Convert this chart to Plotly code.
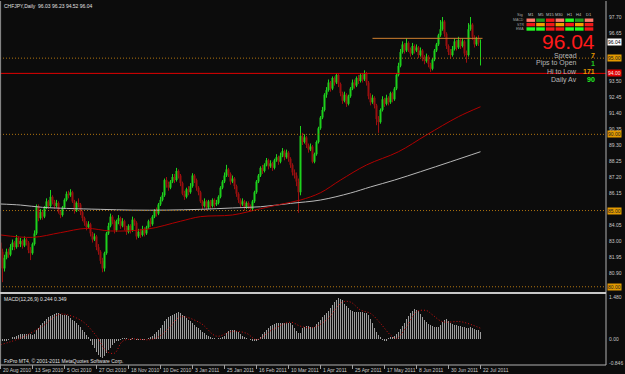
import plotly.graph_objects as go

# ---------------- data ----------------
date_labels = ["20 Aug 2010", "13 Sep 2010", "5 Oct 2010", "27 Oct 2010", "18 Nov 2010",
               "10 Dec 2010", "3 Jan 2011", "25 Jan 2011", "16 Feb 2011", "10 Mar 2011",
               "1 Apr 2011", "25 Apr 2011", "17 May 2011", "8 Jun 2011", "30 Jun 2011",
               "22 Jul 2011"]
date_bars = [0, 16, 32, 48, 64, 80, 96, 112, 128, 144, 160, 176, 192, 208, 224, 240]

first_open = 82.9
closes = [
    82.3, 81.2, 81.9, 82.3, 82.1, 82.6, 82.9, 82.6, 83.2, 82.8,
    83.0, 82.7, 83.1, 82.9, 82.4, 82.2, 82.8, 83.5, 85.3, 84.5,
    84.9, 84.6, 85.2, 85.6, 85.3, 85.9, 85.6, 85.3, 85.5, 84.9,
    84.7, 85.2, 85.7, 86.1, 86.0, 86.2, 85.6, 85.0, 85.5, 85.4,
    84.9, 84.5, 84.2, 83.9, 84.1, 83.5, 83.1, 83.3, 82.6, 82.3,
    81.7, 81.2, 82.2, 83.5, 84.0, 84.6, 84.3, 83.7, 84.3, 84.5,
    84.0, 84.3, 83.9, 83.6, 84.0, 83.7, 84.4, 84.2, 83.3, 83.6,
    83.4, 83.8, 83.5, 83.9, 84.3, 84.1, 84.6, 85.0, 84.8, 85.4,
    85.7, 86.0, 87.0, 86.7, 86.5, 86.9, 87.2, 87.0, 87.6, 87.3,
    86.8, 86.1, 85.9, 86.4, 86.2, 86.6, 87.3, 87.0, 86.5, 86.2,
    85.6, 85.3, 85.6, 85.2, 85.6, 85.3, 85.7, 85.4, 85.5, 85.9,
    86.5, 86.9, 87.3, 87.7, 87.4, 86.9, 87.1, 86.6, 86.1, 85.7,
    85.4, 85.6, 85.2, 85.5, 85.3, 85.1, 85.6, 86.2, 86.9, 87.3,
    87.8, 87.6, 88.0, 88.3, 87.9, 88.1, 87.8, 88.3, 88.5, 88.2,
    88.6, 88.9, 88.5, 88.8, 88.4, 88.0, 87.5, 87.3, 86.9, 86.2,
    89.9, 89.5, 89.8, 89.3, 89.0, 89.2, 88.2, 88.7, 89.5, 90.4,
    91.1, 91.6, 92.6, 92.9, 93.4, 93.0, 93.7, 93.4, 93.9, 93.3,
    92.7, 92.2, 92.6, 92.0, 92.5, 93.0, 93.4, 93.2, 93.7, 93.5,
    93.9, 93.6, 94.0, 93.4, 92.5, 92.1, 92.4, 91.9, 91.0, 90.8,
    91.6, 92.3, 92.0, 92.4, 92.1, 92.7, 92.3, 93.0, 93.9, 94.5,
    95.4, 95.9, 95.5, 96.0, 95.6, 95.3, 95.8, 95.5, 95.7, 95.2,
    95.5, 95.0, 94.8, 95.1, 94.6, 94.3, 94.9, 95.5, 95.9, 96.5,
    96.9, 97.4, 96.6, 95.8, 95.4, 95.2, 95.6, 96.1, 95.7, 96.2,
    95.8, 96.1, 95.3, 95.2, 96.9, 97.2, 96.4, 95.9, 96.3, 96.03,
    96.04]
highs = [
    83.1, 82.5, 82.1, 82.5, 82.5, 82.8, 83.1, 83.0, 83.4, 83.3,
    83.2, 83.1, 83.3, 83.2, 83.0, 82.6, 82.9, 83.7, 85.4, 85.4,
    85.1, 85.0, 85.3, 85.8, 85.7, 86.35, 86.0, 85.7, 85.7, 85.6,
    85.0, 85.3, 85.8, 86.25, 86.3, 86.4, 86.3, 85.7, 85.6, 85.8,
    85.5, 85.0, 84.6, 84.3, 84.3, 84.2, 83.6, 83.5, 83.4, 82.8,
    82.4, 81.9, 82.3, 83.6, 84.2, 84.8, 84.7, 84.4, 84.4, 84.7,
    84.6, 84.5, 84.4, 84.0, 84.1, 84.1, 84.6, 84.5, 84.3, 83.8,
    83.8, 84.0, 83.9, 84.0, 84.4, 84.5, 84.7, 85.1, 85.2, 85.5,
    85.9, 86.2, 87.1, 87.2, 86.9, 87.0, 87.4, 87.4, 87.8, 87.7,
    87.4, 86.9, 86.3, 86.5, 86.6, 86.8, 87.45, 87.4, 87.1, 86.6,
    86.3, 85.7, 85.8, 85.7, 85.7, 85.7, 85.8, 85.8, 85.7, 86.0,
    86.6, 87.0, 87.5, 88.0, 87.8, 87.5, 87.3, 87.2, 86.7, 86.2,
    85.8, 85.8, 85.7, 85.6, 85.6, 85.4, 85.7, 86.3, 87.0, 87.4,
    87.9, 88.0, 88.1, 88.45, 88.4, 88.3, 88.2, 88.4, 88.7, 88.6,
    88.8, 89.1, 89.0, 89.0, 88.9, 88.5, 88.1, 87.7, 87.5, 87.1,
    90.55, 90.1, 90.0, 89.9, 89.4, 89.4, 89.3, 88.8, 89.6, 90.5,
    91.2, 91.8, 92.7, 93.1, 93.6, 93.5, 93.8, 93.8, 94.0, 94.0,
    93.4, 92.8, 92.8, 92.7, 92.6, 93.1, 93.6, 93.6, 93.8, 93.9,
    94.0, 94.0, 94.2, 94.1, 93.5, 92.7, 92.6, 92.5, 92.0, 91.2,
    91.7, 92.5, 92.4, 92.6, 92.5, 92.8, 92.8, 93.1, 94.0, 94.7,
    95.6, 96.1, 96.0, 96.3, 96.1, 95.7, 96.0, 95.9, 95.9, 95.8,
    95.7, 95.6, 95.2, 95.3, 95.2, 94.7, 95.0, 95.6, 96.0, 96.6,
    97.5, 97.7, 97.5, 96.7, 95.9, 95.6, 95.8, 96.3, 96.2, 96.4,
    96.3, 96.3, 96.2, 95.5, 97.3, 97.7, 97.3, 96.5, 96.4, 96.5,
    96.23]
lows = [
    82.1, 80.3, 81.0, 81.8, 81.9, 82.0, 82.4, 82.4, 82.5, 82.6,
    82.6, 82.5, 82.6, 82.7, 82.2, 81.75, 82.1, 82.7, 83.4, 84.3,
    84.4, 84.4, 84.5, 85.1, 85.1, 85.2, 85.4, 85.1, 85.2, 84.8,
    84.5, 84.6, 85.1, 85.6, 85.8, 85.9, 85.5, 84.8, 84.9, 85.2,
    84.7, 84.3, 84.0, 83.7, 83.8, 83.3, 82.9, 83.0, 82.4, 82.1,
    81.5, 80.95, 81.0, 82.1, 83.4, 83.9, 84.1, 83.5, 83.6, 84.1,
    83.8, 83.9, 83.7, 83.4, 83.5, 83.5, 83.6, 84.0, 83.1, 83.2,
    83.2, 83.3, 83.3, 83.4, 83.8, 83.9, 84.0, 84.5, 84.6, 84.7,
    85.3, 85.6, 85.9, 86.5, 86.3, 86.4, 86.8, 86.8, 86.9, 87.1,
    86.6, 86.0, 85.7, 85.8, 86.0, 86.1, 86.5, 86.8, 86.3, 86.0,
    85.5, 85.1, 85.2, 85.0, 85.1, 85.1, 85.2, 85.2, 85.3, 85.4,
    85.8, 86.4, 86.8, 87.2, 87.2, 86.7, 86.8, 86.4, 85.9, 85.5,
    85.2, 85.3, 85.0, 85.1, 85.1, 84.95, 85.0, 85.5, 86.1, 86.8,
    87.2, 87.4, 87.5, 87.9, 87.7, 87.8, 87.6, 87.7, 88.2, 88.0,
    88.1, 88.5, 88.3, 88.4, 88.2, 87.8, 87.3, 87.1, 86.6, 84.85,
    86.0, 89.3, 89.4, 89.1, 88.8, 88.9, 88.1, 88.1, 88.6, 89.4,
    90.3, 91.0, 91.5, 92.4, 92.8, 92.8, 92.9, 93.2, 93.3, 93.1,
    92.5, 92.0, 92.1, 91.8, 91.9, 92.4, 92.9, 93.0, 93.1, 93.3,
    93.4, 93.4, 93.5, 93.2, 92.3, 91.9, 92.0, 91.7, 90.6, 90.1,
    90.7, 91.5, 91.8, 91.9, 91.9, 92.0, 92.1, 92.2, 92.9, 93.8,
    94.4, 95.3, 95.3, 95.4, 95.4, 95.1, 95.2, 95.3, 95.4, 95.0,
    95.1, 94.8, 94.6, 94.7, 94.4, 94.1, 94.2, 94.8, 95.4, 95.8,
    96.4, 96.8, 96.4, 95.6, 95.2, 95.0, 95.1, 95.5, 95.5, 95.6,
    95.6, 95.7, 95.1, 94.7, 95.1, 96.8, 96.2, 95.7, 95.8, 95.8,
    94.52]

# moving averages (read at sample bars)
ma_red_bars = [0, 16, 30, 43, 55, 73, 90, 100, 116, 130, 140, 150, 160, 170, 183, 199, 213, 229, 240]
ma_red_vals = [83.40, 83.24, 83.55, 83.83, 83.66, 83.77, 84.30, 84.60, 84.71, 85.12, 85.41,
               85.69, 86.17, 87.00, 87.99, 88.86, 89.96, 91.16, 91.81]
ma_grey_bars = [0, 10, 21, 33, 50, 66, 83, 100, 116, 130, 145, 160, 175, 185, 197, 210, 225, 240]
ma_grey_vals = [85.43, 85.36, 85.21, 85.14, 85.08, 85.03, 85.03, 85.08, 85.17, 85.25, 85.47,
                85.69, 86.15, 86.55, 87.00, 87.55, 88.20, 88.86]

# MACD histogram per bar
macd = [
    -0.06, -0.07, -0.06, -0.05, -0.03, 0.00, 0.04, 0.08, 0.12, 0.15,
    0.17, 0.18, 0.19, 0.18, 0.17, 0.16, 0.15, 0.17, 0.30, 0.40,
    0.48, 0.55, 0.62, 0.70, 0.76, 0.82, 0.86, 0.89, 0.91, 0.90,
    0.88, 0.86, 0.85, 0.84, 0.80, 0.74, 0.68, 0.62, 0.56, 0.50,
    0.42, 0.33, 0.24, 0.14, 0.05, -0.08, -0.20, -0.32, -0.44, -0.55,
    -0.63, -0.67, -0.60, -0.50, -0.40, -0.30, -0.22, -0.15, -0.08, -0.04,
    -0.01, 0.01, 0.02, 0.01, 0.00, -0.01, 0.01, 0.00, -0.02, -0.02,
    -0.01, -0.02, -0.01, 0.00, 0.02, 0.05, 0.10, 0.17, 0.24, 0.32,
    0.40, 0.50, 0.62, 0.70, 0.76, 0.82, 0.86, 0.89, 0.92, 0.94,
    0.90, 0.86, 0.80, 0.74, 0.68, 0.62, 0.56, 0.50, 0.44, 0.38,
    0.32, 0.26, 0.20, 0.15, 0.10, 0.06, 0.03, 0.01, 0.00, 0.01,
    0.02, 0.05, 0.12, 0.20, 0.27, 0.31, 0.33, 0.32, 0.28, 0.24,
    0.18, 0.12, 0.07, 0.03, 0.00, -0.03, -0.05, -0.06, -0.04, -0.01,
    0.08, 0.16, 0.24, 0.32, 0.40, 0.46, 0.50, 0.53, 0.55, 0.56,
    0.57, 0.58, 0.58, 0.57, 0.56, 0.55, 0.50, 0.40, 0.28, 0.20,
    0.22, 0.40, 0.44, 0.45, 0.45, 0.44, 0.43, 0.44, 0.52, 0.60,
    0.68, 0.76, 0.84, 0.92, 1.00, 1.10, 1.20, 1.30, 1.38, 1.43,
    1.42, 1.36, 1.25, 1.15, 1.08, 1.02, 0.98, 0.95, 0.94, 0.94,
    0.95, 0.94, 0.93, 0.92, 0.86, 0.70, 0.55, 0.40, 0.26, 0.14,
    0.04, -0.03, -0.06, -0.04, 0.02, 0.05, 0.08, 0.12, 0.17, 0.24,
    0.34, 0.46, 0.58, 0.70, 0.82, 0.92, 1.00, 1.04, 1.03, 0.98,
    0.88, 0.78, 0.68, 0.60, 0.54, 0.50, 0.46, 0.44, 0.43, 0.44,
    0.50, 0.60, 0.68, 0.70, 0.64, 0.56, 0.52, 0.50, 0.48, 0.47,
    0.46, 0.44, 0.42, 0.40, 0.40, 0.41, 0.40, 0.36, 0.33, 0.30,
    0.26]
signal_bars = [0, 10, 21, 29, 33, 41, 48, 53, 57, 61, 66, 75, 80, 85, 90, 100, 108, 116,
               123, 128, 136, 145, 150, 156, 163, 171, 175, 180, 185, 190, 195, 198, 203,
               208, 213, 216, 221, 230, 236, 240]
signal_vals = [-0.20, 0.03, 0.45, 0.86, 0.86, 0.62, 0.10, -0.43, -0.50, -0.08, 0.00, -0.02,
               0.12, 0.45, 0.78, 0.56, 0.10, 0.27, 0.20, -0.02, 0.33, 0.59, 0.45, 0.40,
               0.67, 1.30, 1.30, 1.02, 0.90, 0.55, 0.14, 0.02, 0.43, 0.96, 1.00, 0.85,
               0.61, 0.61, 0.49, 0.38]

price_ticks = [97.70, 96.65, 93.50, 92.45, 91.40, 90.35, 89.30, 88.25, 87.20, 86.15,
               84.05, 83.00, 81.95, 80.90]
round_levels = [95.00, 90.00, 85.00, 80.00]
red_level = 94.00
top_level = 96.30
top_level_bars = [186, 240]
last_price = 96.04
macd_ticks = [1.480, 0.00, -0.846]
macd_tick_text = ["1.480", "0.00", "-0.846"]

info_labels = ["Spread", "Pips to Open", "Hi to Low", "Daily Av"]
info_values = ["7", "1", "171", "90"]
info_colors = ["#e89a00", "#22cc22", "#e89a00", "#22ee22"]

tf_cols = ["M1", "M5", "M15", "M30", "H1", "H4", "D1"]
tf_rows = ["MACD", "STR", "EMA"]
SAL, RED, DG, LIME, ORG = "#ff7a6a", "#f01818", "#1f9a1f", "#22ff22", "#f0a000"
tf_colors = [
    [SAL, DG, RED, SAL, LIME, DG, SAL],
    [RED, ORG, RED, ORG, RED, ORG, RED],
    [LIME, LIME, RED, RED, LIME, LIME, RED],
]

# ---------------- figure ----------------
bars = list(range(len(closes)))
opens = [first_open] + closes[:-1]

BG = "#0c0c0c"
FONT = "Liberation Sans"
W, TOP, BOT = 606.0, 1.0, 365.0
H = BOT - TOP


def pxx(x):
    return x / W


def pyy(y):
    return (BOT - y) / H


fig = go.Figure()

fig.add_trace(go.Candlestick(
    x=bars, open=opens, high=highs, low=lows, close=closes,
    increasing=dict(line=dict(color="#1ed21e", width=1), fillcolor="#1ed21e"),
    decreasing=dict(line=dict(color="#9a1010", width=1), fillcolor="#9a1010"),
    whiskerwidth=0, xaxis="x", yaxis="y", hoverinfo="skip", showlegend=False))

fig.add_trace(go.Scatter(x=ma_grey_bars, y=ma_grey_vals, mode="lines",
                         line=dict(color="#b8b8b8", width=1, shape="spline"),
                         xaxis="x", yaxis="y", hoverinfo="skip", showlegend=False))
fig.add_trace(go.Scatter(x=ma_red_bars, y=ma_red_vals, mode="lines",
                         line=dict(color="#b00000", width=1, shape="spline"),
                         xaxis="x", yaxis="y", hoverinfo="skip", showlegend=False))

fig.add_trace(go.Bar(x=bars, y=macd, width=0.5, marker=dict(color="#9c9c9c", line=dict(width=0)),
                     xaxis="x2", yaxis="y2", hoverinfo="skip", showlegend=False))
fig.add_trace(go.Scatter(x=signal_bars, y=signal_vals, mode="lines",
                         line=dict(color="#d01010", width=1, dash="1px,2px", shape="spline"),
                         xaxis="x2", yaxis="y2", hoverinfo="skip", showlegend=False))

shapes = []
for lv in round_levels:
    shapes.append(dict(type="line", xref="paper", x0=0, x1=1, yref="y", y0=lv, y1=lv,
                       line=dict(color="#b07410", width=1, dash="1px,2px")))
shapes.append(dict(type="line", xref="paper", x0=0, x1=1, yref="y", y0=red_level, y1=red_level,
                   line=dict(color="#e00000", width=1)))
shapes.append(dict(type="line", xref="x", x0=top_level_bars[0], x1=top_level_bars[1] + 1,
                   yref="y", y0=top_level, y1=top_level,
                   line=dict(color="#d08030", width=1)))
# frame lines
shapes.append(dict(type="line", xref="paper", x0=1, x1=1, yref="paper", y0=0, y1=1,
                   line=dict(color="#b0b0b0", width=1)))
shapes.append(dict(type="line", xref="paper", x0=0.001, x1=0.001, yref="paper", y0=0, y1=1,
                   line=dict(color="#909090", width=1)))
shapes.append(dict(type="line", xref="paper", x0=0, x1=1, yref="paper", y0=0, y1=0,
                   line=dict(color="#b0b0b0", width=1)))
shapes.append(dict(type="line", xref="paper", x0=0, x1=1, yref="paper", y0=pyy(293), y1=pyy(293),
                   line=dict(color="#c8c8c8", width=2)))
for b in date_bars:
    shapes.append(dict(type="line", xref="x", x0=b, x1=b, yref="paper", y0=pyy(365), y1=pyy(369),
                       line=dict(color="#a0a0a0", width=1)))

# signal table cells
for r, row in enumerate(tf_colors):
    for c, col in enumerate(row):
        x0 = 526.5 + 9.7 * c
        y0 = 18.5 + 4.4 * r
        shapes.append(dict(type="rect", xref="paper", yref="paper",
                           x0=pxx(x0), x1=pxx(x0 + 8.6), y0=pyy(y0 + 3.4), y1=pyy(y0),
                           fillcolor=col, line=dict(width=0)))


def box(val, bg, fg, text):
    return dict(xref="paper", x=1.0, xanchor="left", xshift=1, yref="y", y=val, yanchor="middle",
                text=text, showarrow=False, bgcolor=bg, borderpad=0,
                font=dict(family=FONT, size=5, color=fg))


ann = []
for t in price_ticks:
    ann.append(dict(xref="paper", x=1.0, xanchor="left", xshift=2, yref="y", y=t, yanchor="middle",
                    text=f"{t:.2f}", showarrow=False, borderpad=0,
                    font=dict(family=FONT, size=5, color="#c8c8c8")))
for lv in round_levels:
    ann.append(box(lv, "#e39a00", "#202020", f"{lv:.2f}"))
ann.append(box(red_level, "#e00000", "#f0f0f0", f"{red_level:.2f}"))
ann.append(box(last_price, "#ffffff", "#000000", f"{last_price:.2f}"))

for v, t in zip(macd_ticks, macd_tick_text):
    ann.append(dict(xref="paper", x=1.0, xanchor="left", xshift=2, yref="y2", y=v, yanchor="middle",
                    text=t, showarrow=False, borderpad=0,
                    font=dict(family=FONT, size=5, color="#c8c8c8")))

for b, lab in zip(date_bars, date_labels):
    ann.append(dict(xref="x", x=b, xanchor="left", xshift=1, yref="paper", y=pyy(369.5),
                    yanchor="middle", text=lab, showarrow=False, borderpad=0,
                    font=dict(family=FONT, size=5, color="#c8c8c8")))

ann.append(dict(xref="paper", x=pxx(3), xanchor="left", yref="paper", y=pyy(6), yanchor="middle",
                text="CHFJPY,Daily  96.03 96.23 94.52 96.04", showarrow=False, borderpad=0,
                font=dict(family=FONT, size=5, color="#e0e0e0")))
ann.append(dict(xref="paper", x=pxx(3), xanchor="left", yref="paper", y=pyy(299), yanchor="middle",
                text="MACD(12,26,9) 0.244 0.349", showarrow=False, borderpad=0,
                font=dict(family=FONT, size=5, color="#e0e0e0")))
ann.append(dict(xref="paper", x=pxx(3), xanchor="left", yref="paper", y=pyy(361), yanchor="middle",
                text="FxPro MT4, © 2001-2011 MetaQuotes Software Corp.", showarrow=False, borderpad=0,
                font=dict(family=FONT, size=5, color="#e0e0e0")))

ann.append(dict(xref="paper", x=pxx(596), xanchor="right", yref="paper", y=pyy(41), yanchor="middle",
                text=f"{last_price:.2f}", showarrow=False, borderpad=0,
                font=dict(family=FONT, size=21, color="#ff1a1a")))
info_y = [55.5, 63.5, 71.5, 79.5]
for lab, val, col, yy in zip(info_labels, info_values, info_colors, info_y):
    ann.append(dict(xref="paper", x=pxx(578), xanchor="right", yref="paper", y=pyy(yy),
                    yanchor="middle", text=lab, showarrow=False, borderpad=0,
                    font=dict(family=FONT, size=7, color="#b8b8b8")))
    ann.append(dict(xref="paper", x=pxx(596), xanchor="right", yref="paper", y=pyy(yy),
                    yanchor="middle", text=f"<b>{val}</b>", showarrow=False, borderpad=0,
                    font=dict(family=FONT, size=7, color=col)))

ann.append(dict(xref="paper", x=pxx(524), xanchor="right", yref="paper", y=pyy(15), yanchor="middle",
                text="Sig", showarrow=False, borderpad=0,
                font=dict(family=FONT, size=4, color="#a0a0a0")))
for c, name in enumerate(tf_cols):
    ann.append(dict(xref="paper", x=pxx(526.5 + 9.7 * c + 4.3), xanchor="center", yref="paper",
                    y=pyy(15), yanchor="middle", text=name, showarrow=False, borderpad=0,
                    font=dict(family=FONT, size=4, color="#c0c0c0")))
for r, name in enumerate(tf_rows):
    ann.append(dict(xref="paper", x=pxx(525), xanchor="right", yref="paper",
                    y=pyy(18.5 + 4.4 * r + 1.7), yanchor="middle", text=name, showarrow=False,
                    borderpad=0, font=dict(family=FONT, size=3.5, color="#a0a0a0")))

main_lo = 97.70 - (292 - 17) / 15.24
main_hi = 97.70 - (1 - 17) / 15.24
macd_lo = -(365 - 339) / 28.4
macd_hi = (339 - 294) / 28.4

fig.update_layout(
    width=625, height=374,
    margin=dict(l=0, r=19, t=1, b=9),
    paper_bgcolor=BG, plot_bgcolor=BG,
    showlegend=False, bargap=0,
    xaxis=dict(domain=[0, 1], range=[-0.25, 302.75], visible=False, rangeslider=dict(visible=False),
               anchor="y", fixedrange=True),
    xaxis2=dict(domain=[0, 1], range=[-0.25, 302.75], visible=False, anchor="y2", matches="x"),
    yaxis=dict(domain=[pyy(292), 1], range=[main_lo, main_hi], visible=False, anchor="x"),
    yaxis2=dict(domain=[0, pyy(294)], range=[macd_lo, macd_hi], visible=False, anchor="x2"),
    shapes=shapes, annotations=ann,
)

fig.write_html("out.html")
